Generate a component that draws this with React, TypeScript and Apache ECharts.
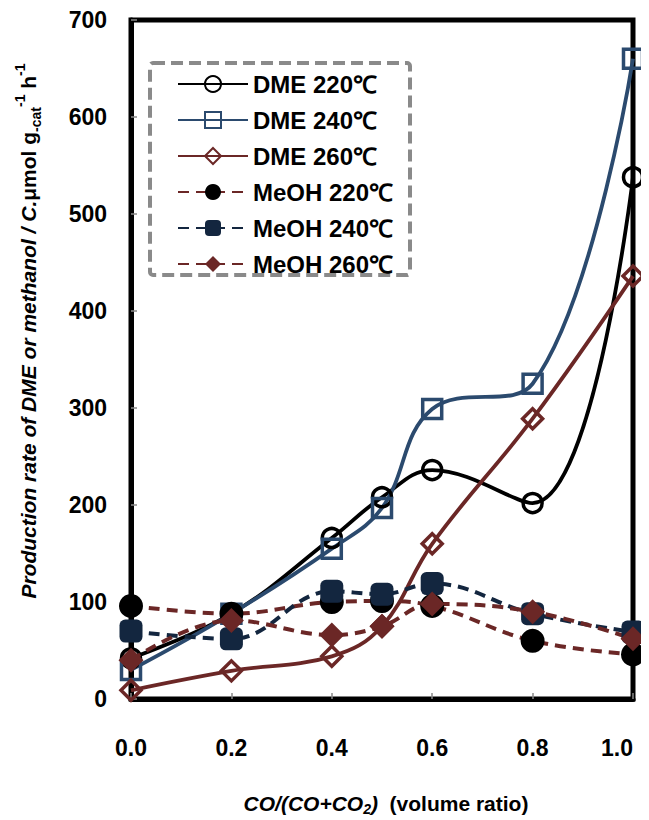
import React, { useEffect, useRef } from "react";
import * as echarts from "echarts";

const xValues = [0, 0.2, 0.4, 0.5, 0.6, 0.8, 1.0];
const dme220 = [42, 88, 166, 208, 236, 202, 538];
const dme240 = [30, 88, 155, 197, 299, 325, 660];
const dme260 = [9, 29, 44, 75, 160, 289, 436];
const meoh220 = [96, 88, 100, 101, 96, 60, 46];
const meoh240 = [70, 62, 111, 108, 119, 88, 69];
const meoh260 = [40, 81, 66, 75, 98, 90, 62];
const seriesNames = ["DME 220℃", "DME 240℃", "DME 260℃", "MeOH 220℃", "MeOH 240℃", "MeOH 260℃"];
const yTicks = [0, 100, 200, 300, 400, 500, 600, 700];
const xTicks = [0, 0.2, 0.4, 0.6, 0.8, 1.0];

const FONT = "'Liberation Sans', Arial, sans-serif";
const BLACK = "#000000";
const BLUE = "#2b4a6e";
const BROWN = "#6b2726";
const NAVY = "#13263f";
const CLEAR = "rgba(255,255,255,0)";

function pairs(ys: number[]) {
  return xValues.map((x, i) => [x, ys[i]]);
}

export default function App() {
  const ref = useRef<HTMLDivElement>(null);
  useEffect(() => {
    if (!ref.current) return;
    const chart = echarts.init(ref.current, null, { renderer: "svg" });
    const solid = (name: string, ys: number[], color: string, symbol: string, size: number) => ({
      name,
      type: "line",
      data: pairs(ys),
      smooth: 0.4,
      symbol,
      symbolSize: size,
      showAllSymbol: true,
      lineStyle: { color, width: 3.8, type: "solid" },
      itemStyle: { color: CLEAR, borderColor: color, borderWidth: 3.5 },
      z: 3,
    });
    const dashed = (name: string, ys: number[], lineColor: string, fill: string, symbol: string, size: number) => ({
      name,
      type: "line",
      data: pairs(ys),
      smooth: 0.4,
      symbol,
      symbolSize: size,
      showAllSymbol: true,
      lineStyle: { color: lineColor, width: 4, type: [11, 7] },
      itemStyle: { color: fill, borderColor: fill, borderWidth: 0 },
      z: 4,
    });
    chart.setOption({
      animation: false,
      backgroundColor: "#ffffff",
      grid: {
        left: 123,
        right: 16,
        top: 12,
        bottom: 121,
        show: true,
        borderColor: "#000000",
        borderWidth: 5,
        backgroundColor: "transparent",
      },
      legend: {
        orient: "vertical",
        left: 164,
        top: 59,
        itemWidth: 70,
        itemHeight: 20,
        itemGap: 12,
        data: seriesNames,
        textStyle: { fontSize: 24, lineHeight: 24, fontWeight: "bold", color: "#000", fontFamily: FONT },
      },
      xAxis: {
        type: "value",
        min: 0,
        max: 1,
        interval: 0.2,
        axisLine: { show: true, lineStyle: { color: "#000", width: 5 } },
        axisTick: { show: true, inside: true, length: 6, lineStyle: { color: "#888", width: 1.5 } },
        splitLine: { show: false },
        axisLabel: {
          margin: 37,
          fontSize: 23,
          fontWeight: "bold",
          color: "#000",
          fontFamily: FONT,
          alignMaxLabel: "right",
          formatter: (v: number) => (xTicks.some((t) => Math.abs(t - v) < 1e-6) ? v.toFixed(1) : ""),
        },
      },
      yAxis: {
        type: "value",
        min: 0,
        max: 700,
        interval: 100,
        axisLine: { show: true, lineStyle: { color: "#000", width: 5 } },
        axisTick: { show: true, inside: true, length: 6, lineStyle: { color: "#888", width: 1.5 } },
        splitLine: { show: false },
        axisLabel: {
          margin: 24,
          fontSize: 23,
          fontWeight: "bold",
          color: "#000",
          fontFamily: FONT,
          formatter: (v: number) => (yTicks.includes(v) ? String(v) : ""),
        },
      },
      graphic: [
        {
          type: "rect",
          shape: { x: 142, y: 55, width: 260, height: 212, r: 3 },
          style: { fill: "transparent", stroke: "#8a8a8a", lineWidth: 4, lineDash: [12, 6] },
          z: 1,
        },
        {
          type: "text",
          x: 20,
          y: 323,
          rotation: Math.PI / 2,
          style: {
            text: "{a|Production rate of DME or methanol / C.}{b|μmol g}{sub|-cat}{sup|-1}{b| h}{sup|-1}",
            align: "center",
            verticalAlign: "middle",
            fontFamily: FONT,
            rich: {
              a: { fontSize: 21, fontStyle: "italic", fontWeight: "bold", fontFamily: FONT, fill: "#000", lineHeight: 30, verticalAlign: "middle" },
              b: { fontSize: 21, fontWeight: "bold", fontFamily: FONT, fill: "#000", lineHeight: 30, verticalAlign: "middle" },
              sub: { fontSize: 14, fontWeight: "bold", fontFamily: FONT, fill: "#000", lineHeight: 30, verticalAlign: "bottom" },
              sup: { fontSize: 14, fontWeight: "bold", fontFamily: FONT, fill: "#000", lineHeight: 30, verticalAlign: "top" },
            },
          },
        },
        {
          type: "text",
          x: 378,
          y: 795,
          style: {
            text: "{a|CO/(CO+CO}{sub|2}{a|)}{b|  (volume ratio)}",
            align: "center",
            verticalAlign: "middle",
            fontFamily: FONT,
            rich: {
              a: { fontSize: 21, fontStyle: "italic", fontWeight: "bold", fontFamily: FONT, fill: "#000", lineHeight: 26, verticalAlign: "middle" },
              b: { fontSize: 21, fontWeight: "bold", fontFamily: FONT, fill: "#000", lineHeight: 26, verticalAlign: "middle" },
              sub: { fontSize: 14, fontStyle: "italic", fontWeight: "bold", fontFamily: FONT, fill: "#000", lineHeight: 26, verticalAlign: "bottom" },
            },
          },
        },
      ],
      series: [
        solid(seriesNames[0], dme220, BLACK, "circle", 19),
        solid(seriesNames[1], dme240, BLUE, "rect", 19),
        solid(seriesNames[2], dme260, BROWN, "diamond", 20),
        dashed(seriesNames[3], meoh220, BROWN, BLACK, "circle", 24),
        dashed(seriesNames[4], meoh240, NAVY, NAVY, "roundRect", 23),
        dashed(seriesNames[5], meoh260, BROWN, BROWN, "diamond", 25),
      ],
    });
    return () => chart.dispose();
  }, []);
  return <div ref={ref} style={{ width: 641, height: 812 }} />;
}
